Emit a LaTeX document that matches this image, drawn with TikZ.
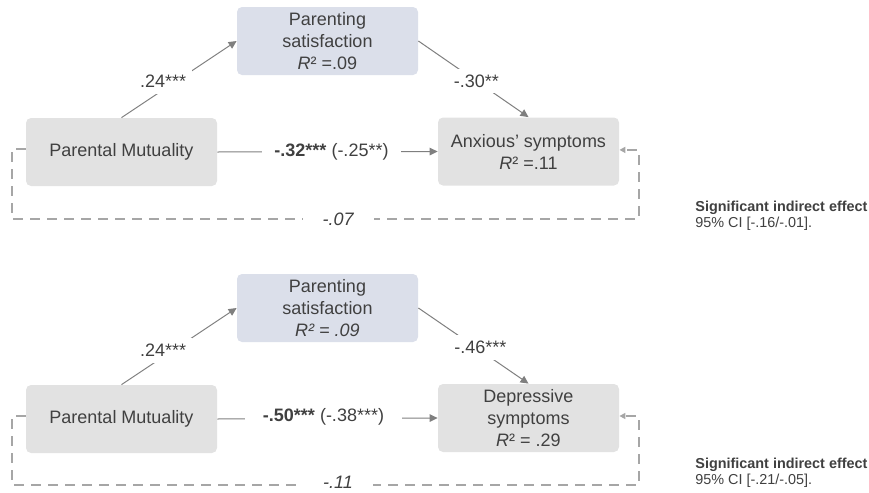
\documentclass[tikz,border=0pt]{standalone}
\usepackage{fontspec}
\setmainfont{Liberation Sans}
\usetikzlibrary{arrows.meta,positioning}

\definecolor{txtgrey}{HTML}{404040}
\definecolor{arrgrey}{HTML}{7F7F7F}
\definecolor{dashgrey}{HTML}{A6A6A6}
\definecolor{boxgrey}{HTML}{E2E2E2}
\definecolor{boxblue}{HTML}{DBDFEA}

\tikzset{
  varbox/.style = {fill=boxgrey, rounded corners=2.5pt, minimum height=34pt,
                   inner sep=0pt, align=center, text=txtgrey,
                   font=\fontsize{9}{11}\selectfont},
  medbox/.style = {varbox, fill=boxblue, minimum width=90.5pt},
  arr/.style = {draw=arrgrey, line width=0.5pt,
                -{Triangle[length=4pt,width=3.8pt]}},
  dashline/.style = {draw=dashgrey, line width=0.75pt, dash pattern=on 5pt off 3.5pt,
                     -{Triangle[length=3pt,width=3pt]}},
  lbl/.style = {fill=white, text=txtgrey, inner sep=3pt,
                font=\fontsize{9}{11}\selectfont},
  dlbl/.style = {lbl, pos=0.52, inner xsep=10pt, inner ysep=1pt,
                 font=\fontsize{9}{11}\selectfont\itshape},
  sig/.style = {anchor=west, align=left, text=txtgrey, inner sep=0pt,
                font=\fontsize{7.2}{8}\selectfont}
}

\begin{document}
\begin{tikzpicture}[x=0.5pt, y=-0.5pt]
\useasboundingbox (0,0) rectangle (869,493);

% anxious symptoms
\node[varbox, minimum width=95.5pt] (pm1) at (121.5,152) {Parental Mutuality};
\node[medbox] (ps1) at (327.5,41) {Parenting\\satisfaction\\\textit{R}² =.09};
\node[varbox, minimum width=90.5pt] (anx) at (528.5,151.5) {Anxious’ symptoms\\\textit{R}² =.11};
\coordinate (lo1) at (12,219);
\coordinate (ro1) at (639,219);
\draw[arr] (pm1.north) -- node[lbl, xshift=-8pt, yshift=-1.2pt] {.24***} (ps1.west);
\draw[arr] (ps1.east) -- node[lbl, xshift=1.5pt, yshift=-1pt] {-.30**} (anx.north);
\draw[arr] (pm1.east) -- node[lbl, inner xsep=6pt, xshift=2pt] {\textbf{-.32***} (-.25**)} (anx.west);
\draw[dashline] ([yshift=1.5pt]pm1.west) -| (lo1)
  -- node[dlbl] {-.07} (ro1)
  |- ([yshift=0.8pt]anx.east);
\node[sig] (sig1) at (695,216) {\textbf{Significant indirect effect}\\95\% CI [-.16/-.01].};

% depressive symptoms
\node[varbox, minimum width=95.5pt] (pm2) at (121.5,419) {Parental Mutuality};
\node[medbox] (ps2) at (327.5,308) {Parenting\\satisfaction\\\textit{R² = .09}};
\node[varbox, minimum width=90.5pt] (dep) at (528.5,418) {Depressive\\symptoms\\\textit{R}² = .29};
\coordinate (lo2) at (12,485);
\coordinate (ro2) at (639,485);
\draw[arr] (pm2.north) -- node[lbl, xshift=-8pt, yshift=-2pt] {.24***} (ps2.west);
\draw[arr] (ps2.east) -- node[lbl, xshift=3.5pt, yshift=-1pt] {-.46***} (dep.north);
\draw[arr] (pm2.east) -- node[lbl, inner xsep=9pt, xshift=-2pt, yshift=1pt] {\textbf{-.50***} (-.38***)} (dep.west);
\draw[dashline] ([yshift=1.5pt]pm2.west) -| (lo2)
  -- node[dlbl, yshift=1.2pt] {-.11} (ro2)
  |- ([yshift=1pt]dep.east);
\node[sig] (sig2) at (695,473) {\textbf{Significant indirect effect}\\95\% CI [-.21/-.05].};
\end{tikzpicture}
\end{document}
